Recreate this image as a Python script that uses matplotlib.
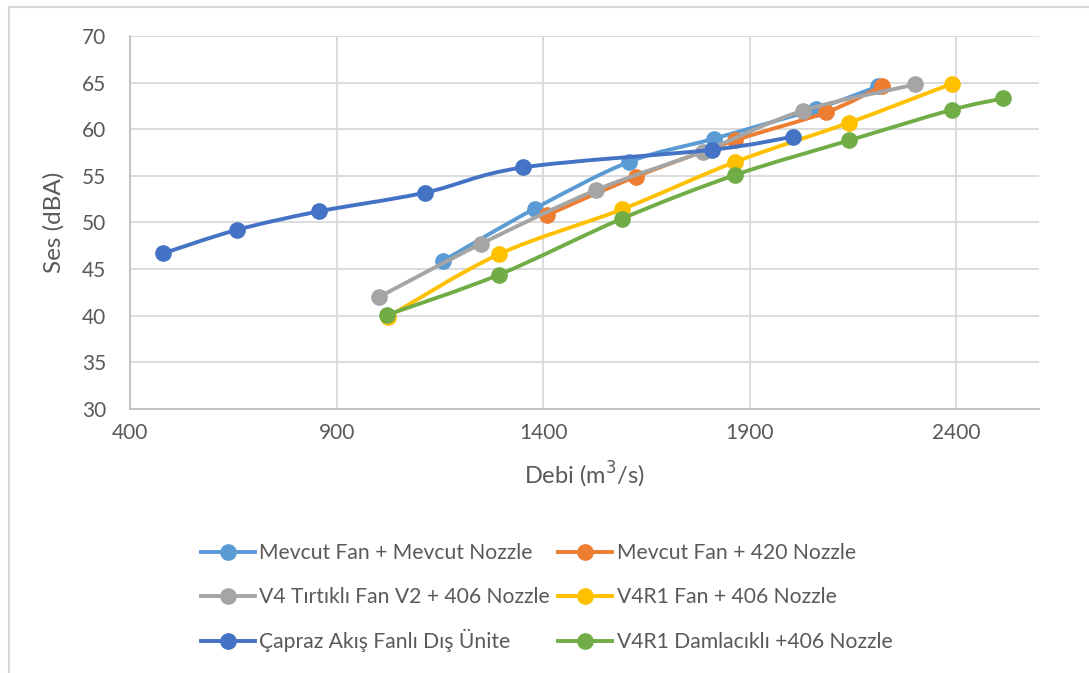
import matplotlib
matplotlib.use("Agg")
import matplotlib.pyplot as plt
import numpy as np
from matplotlib.path import Path
from matplotlib.patches import PathPatch, Rectangle
from matplotlib.lines import Line2D

plt.rcParams['font.family'] = ['Lato', 'DejaVu Sans']

# Debi (m3/s) and Ses (dBA) for each configuration
mevcut_mevcut_x = [1158, 1380, 1608, 1814, 2061, 2210]
mevcut_mevcut_y = [45.9, 51.5, 56.5, 59.0, 62.2, 64.6]

mevcut_420_x = [1410, 1624, 1864, 2084, 2219]
mevcut_420_y = [50.8, 54.9, 58.8, 61.8, 64.6]

v4_tirtikli_x = [1002, 1249, 1529, 1786, 2029, 2301]
v4_tirtikli_y = [42.0, 47.7, 53.5, 57.6, 62.0, 64.8]

v4r1_fan_x = [1025, 1293, 1590, 1865, 2140, 2390]
v4r1_fan_y = [39.9, 46.6, 51.4, 56.5, 60.7, 64.9]

capraz_x = [481, 658, 858, 1114, 1350, 1809, 2005]
capraz_y = [46.7, 49.2, 51.2, 53.2, 55.9, 57.8, 59.2]

v4r1_damla_x = [1023, 1293, 1590, 1865, 2140, 2390, 2513]
v4r1_damla_y = [40.1, 44.4, 50.4, 55.1, 58.8, 62.1, 63.3]

series_names = [
    "Mevcut Fan + Mevcut Nozzle",
    "Mevcut Fan + 420 Nozzle",
    "V4 Tırtıklı Fan V2 + 406 Nozzle",
    "V4R1 Fan + 406 Nozzle",
    "Çapraz Akış Fanlı Dış Ünite",
    "V4R1 Damlacıklı +406 Nozzle",
]
series_x = [mevcut_mevcut_x, mevcut_420_x, v4_tirtikli_x, v4r1_fan_x, capraz_x, v4r1_damla_x]
series_y = [mevcut_mevcut_y, mevcut_420_y, v4_tirtikli_y, v4r1_fan_y, capraz_y, v4r1_damla_y]
colors = ["#5B9BD5", "#ED7D31", "#A5A5A5", "#FFC000", "#4472C4", "#70AD47"]

x_ticks = [400, 900, 1400, 1900, 2400]
y_ticks = [30, 35, 40, 45, 50, 55, 60, 65, 70]

W, H = 1089, 673


def fx(px):
    return px / W


def fy(py):
    return 1 - py / H


def smooth_path(xs, ys):
    """Cubic Bezier path through the points (Catmull-Rom style smoothing)."""
    p = np.column_stack([xs, ys]).astype(float)
    n = len(p)
    verts = [p[0]]
    codes = [Path.MOVETO]
    for i in range(n - 1):
        p_prev = p[i - 1] if i > 0 else p[i]
        p_next2 = p[i + 2] if i + 2 < n else p[i + 1]
        c1 = p[i] + (p[i + 1] - p_prev) / 6.0
        c2 = p[i + 1] - (p_next2 - p[i]) / 6.0
        verts += [c1, c2, p[i + 1]]
        codes += [Path.CURVE4] * 3
    return Path(verts, codes)


fig = plt.figure(figsize=(W / 100, H / 100), dpi=100)
ax = fig.add_axes([fx(130), fy(409), fx(1039 - 130), (409 - 36) / H])

grid_c = "#D9D9D9"
text_c = "#595959"
lw = 2.8
ms = 11

for i, (xs, ys, c) in enumerate(zip(series_x, series_y, colors)):
    z = 3 + i
    ax.add_patch(PathPatch(smooth_path(xs, ys), facecolor="none", edgecolor=c,
                           lw=lw, capstyle="round", joinstyle="round", zorder=z))
    ax.plot(xs, ys, linestyle="none", marker="o", markersize=ms,
            color=c, markeredgecolor=c, zorder=z)

ax.set_xlim(400, 2600)
ax.set_ylim(30, 70)
ax.set_xticks(x_ticks)
ax.set_yticks(y_ticks)
ax.grid(True, color=grid_c, lw=1.3, zorder=0)
ax.set_axisbelow(True)
for s in ["top", "right"]:
    ax.spines[s].set_visible(False)
for s in ["left", "bottom"]:
    ax.spines[s].set_color("#BFBFBF")
    ax.spines[s].set_linewidth(1.3)
ax.tick_params(length=0, labelsize=15, colors=text_c, pad=10)
ax.tick_params(axis="y", pad=17)

ax.set_xlabel("Debi (m$^3$/s)", fontsize=17, color=text_c, labelpad=12)
ax.set_ylabel("Ses (dBA)", fontsize=17.5, color=text_c, labelpad=13)

# legend: two columns, three rows, entries filled row by row
col_handle_x = [(201, 255), (558, 612)]
col_text_x = [259, 617]
row_y = [552, 596, 641]
for k, (name, c) in enumerate(zip(series_names, colors)):
    r, col = divmod(k, 2)
    x0, x1 = col_handle_x[col]
    y = row_y[r]
    fig.add_artist(Line2D([fx(x0), fx((x0 + x1) / 2), fx(x1)], [fy(y)] * 3,
                          transform=fig.transFigure, color=c, lw=lw,
                          marker="o", markersize=ms, markevery=[1],
                          markeredgecolor=c))
    fig.text(fx(col_text_x[col]), fy(y + 7.3), name, fontsize=15.2,
             color=text_c, ha="left", va="baseline")

# outer chart frame
fig.patches.append(Rectangle((fx(9), -0.1), 1.2, fy(7) + 0.1,
                             transform=fig.transFigure, fill=False,
                             edgecolor=grid_c, lw=1.5))

fig.savefig("out.png", dpi=100)
